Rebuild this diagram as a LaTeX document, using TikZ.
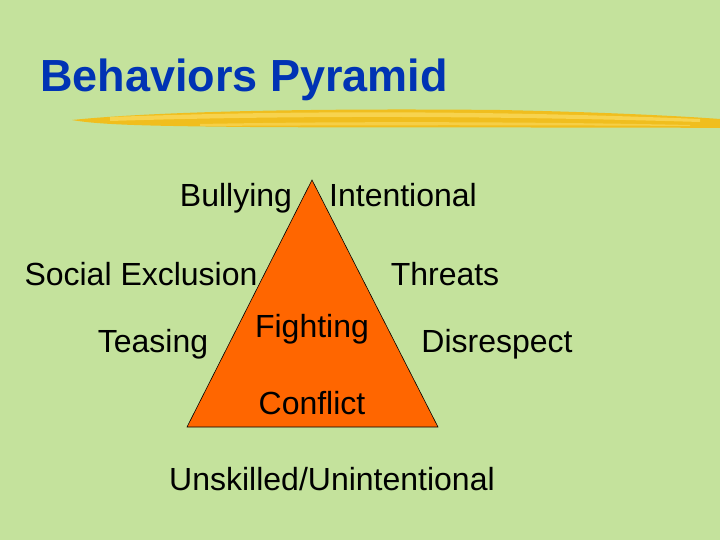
\documentclass[tikz,border=0pt]{standalone}
\usepackage{fontspec}
\setmainfont{Liberation Sans}
\usepackage{tikz}
\usetikzlibrary{positioning}
\definecolor{slidebg}{RGB}{196,226,156}
\definecolor{titleblue}{RGB}{0,51,180}
\definecolor{pyrorange}{RGB}{255,102,0}
\definecolor{brushA}{RGB}{240,190,30}
\definecolor{brushB}{RGB}{252,225,110}

\begin{document}
\begin{tikzpicture}[
    x=1pt, y=-1pt,
    lbl/.style={font=\fontsize{32}{38}\selectfont, inner sep=0pt, text=black, anchor=base}
]
\useasboundingbox (0,0) rectangle (720,540);
\fill[slidebg] (0,0) rectangle (720,540);

% title and brush stroke
\node[anchor=west, inner sep=0pt, text=titleblue,
      font=\fontsize{45}{52}\selectfont\bfseries] (title) at (40,80) {Behaviors Pyramid};
\fill[brushA] (72,120) .. controls (150,112) and (300,108) .. (500,110)
              .. controls (600,112) and (680,116) .. (720,119)
              -- (720,128) .. controls (600,127) and (400,128) .. (250,127)
              .. controls (150,126) and (100,125) .. (72,120) -- cycle;
\fill[brushB, opacity=0.6] (110,117) .. controls (300,110) and (500,111) .. (700,119)
              -- (700,122) .. controls (500,116) and (300,115) .. (110,121) -- cycle;
\fill[brushB, opacity=0.5] (200,124) .. controls (350,121) and (550,122) .. (690,125)
              -- (690,126) .. controls (550,125) and (350,125) .. (200,126) -- cycle;

% pyramid
\coordinate (apex) at (312,180);
\coordinate (bl) at (187,427);
\coordinate (br) at (438,427);
\fill[pyrorange, draw=black, line width=0.6pt] (apex) -- (br) -- (bl) -- cycle;

% labels (placed on their baselines)
\node[lbl] (bully) at (236,207) {Bullying};
\node[lbl] (intent) at (403,207) {Intentional};
\node[lbl] (social) at (141,285) {Social Exclusion};
\node[lbl] (threat) at (445,285) {Threats};
\node[lbl] (tease) at (153,352) {Teasing};
\node[lbl] (fight) at (312,337) {Fighting};
\node[lbl] (disres) at (497,352) {Disrespect};
\node[lbl] (confl) at (312,414) {Conflict};
\node[lbl] (unsk) at (332,490) {Unskilled/Unintentional};
\end{tikzpicture}
\end{document}
